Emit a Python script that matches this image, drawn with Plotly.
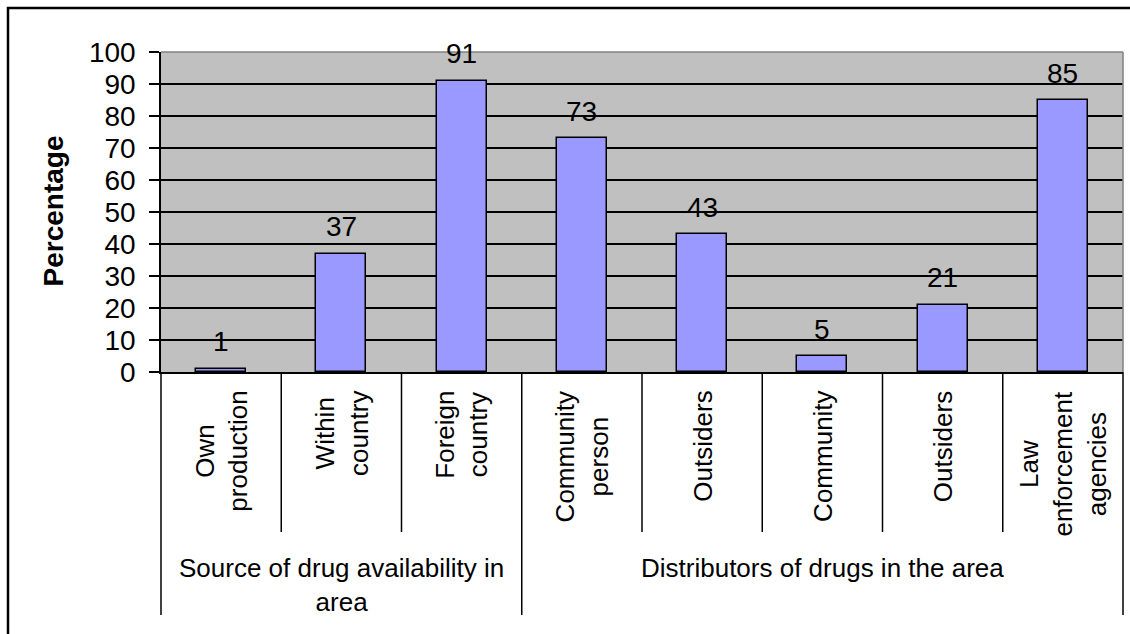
import plotly.graph_objects as go

# Bar categories (inner level) and their groups (outer level)
labels = ["Own<br>production", "Within<br>country", "Foreign<br>country",
          "Community<br>person", "Outsiders", "Community", "Outsiders",
          "Law<br>enforcement<br>agencies"]
groups = ["Source of drug availability in<br>area", "Distributors of drugs in the area"]
group_sizes = [3, 5]
values = [1, 37, 91, 73, 43, 5, 21, 85]
y_ticks = list(range(0, 101, 10))

W, H = 1130, 634
FONT = "Liberation Sans, Arial, sans-serif"

# plot area in pixels
PX0, PX1 = 161, 1123
PY_TOP, PY_BOT = 52, 372


def px(x):
    return x / W


def py(y):
    return (H - y) / H


idx = list(range(len(values)))

fig = go.Figure()
fig.add_trace(go.Bar(
    x=idx, y=values, width=0.416,
    marker=dict(color="#9999FF", line=dict(color="black", width=1.5)),
    hoverinfo="skip", showlegend=False,
))

annotations = []
# value labels above each bar
for i, v in zip(idx, values):
    annotations.append(dict(
        x=i, y=v, xref="x", yref="y", text=str(v), showarrow=False,
        yanchor="middle", yshift=27, font=dict(family=FONT, size=28, color="black"),
    ))

# rotated inner category labels
for i, lab in zip(idx, labels):
    annotations.append(dict(
        x=i, y=py(389), xref="x", yref="paper", text=lab, showarrow=False,
        textangle=-90, xanchor="center", yanchor="top", align="center",
        font=dict(family=FONT, size=26, color="black"),
    ))

# outer group labels
start = 0
for g, n in zip(groups, group_sizes):
    annotations.append(dict(
        x=start + (n - 1) / 2, y=py(551), xref="x", yref="paper", text=g,
        showarrow=False, xanchor="center", yanchor="top", align="center",
        font=dict(family=FONT, size=26, color="black"),
    ))
    start += n

# axis title
annotations.append(dict(
    x=px(52.5), y=py(211), xref="paper", yref="paper", text="<b>Percentage</b>",
    showarrow=False, textangle=-90, xanchor="center", yanchor="middle",
    font=dict(family=FONT, size=28, color="black"),
))

shapes = []
# outer chart frame
shapes.append(dict(type="rect", xref="paper", yref="paper",
                   x0=px(8), x1=1.2, y0=-0.2, y1=py(8),
                   line=dict(color="black", width=2.5), layer="below"))
# gray top/right edges of the plot area
shapes.append(dict(type="line", xref="paper", yref="paper",
                   x0=px(PX0), x1=px(PX1), y0=py(PY_TOP), y1=py(PY_TOP),
                   line=dict(color="#808080", width=1.5)))
shapes.append(dict(type="line", xref="paper", yref="paper",
                   x0=px(PX1), x1=px(PX1), y0=py(PY_TOP), y1=py(PY_BOT),
                   line=dict(color="#808080", width=1.5)))

# category dividers: inner ones short, group boundaries long
n_cat = len(values)
boundaries = [0]
for n in group_sizes:
    boundaries.append(boundaries[-1] + n)
span = PX1 - PX0
for k in range(n_cat + 1):
    xk = px(PX0 + span * k / n_cat)
    y_end = 615 if k in boundaries else 532
    shapes.append(dict(type="line", xref="paper", yref="paper",
                       x0=xk, x1=xk, y0=py(PY_BOT), y1=py(y_end),
                       line=dict(color="black", width=1.5)))

fig.update_layout(
    template="none",
    width=W, height=H,
    margin=dict(l=0, r=0, t=0, b=0, pad=0),
    paper_bgcolor="white", plot_bgcolor="#C0C0C0",
    bargap=0, showlegend=False,
    annotations=annotations, shapes=shapes,
    xaxis=dict(
        domain=[px(PX0), px(PX1)], range=[-0.5, n_cat - 0.5],
        showticklabels=False, ticks="", showgrid=False, zeroline=False,
        showline=True, linecolor="black", linewidth=1.5, fixedrange=True,
        automargin=False,
    ),
    yaxis=dict(
        domain=[py(PY_BOT), py(PY_TOP)], range=[0, 100],
        tickvals=y_ticks, ticktext=[str(t) for t in y_ticks],
        ticks="outside", ticklen=10, tickwidth=1.5, tickcolor="black",
        ticklabelstandoff=8,
        tickfont=dict(family=FONT, size=28, color="black"),
        showgrid=True, gridcolor="black", gridwidth=1.5,
        zeroline=False, showline=True, linecolor="black", linewidth=1.5,
        fixedrange=True, automargin=False,
    ),
)

fig.write_html("out.html")
